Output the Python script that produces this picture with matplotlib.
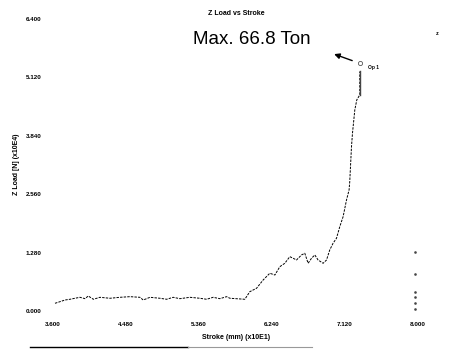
import numpy as np
import matplotlib.pyplot as plt
from matplotlib.lines import Line2D

# data (stroke x10 mm, load x10E4 N)
stroke = [3.624, 3.684, 3.745, 3.805, 3.865, 3.925, 3.986, 4.025, 4.086, 4.166,
          4.287, 4.407, 4.528, 4.648, 4.688, 4.769, 4.889, 4.970, 5.049, 5.130,
          5.251, 5.371, 5.452, 5.531, 5.612, 5.693, 5.733, 5.913, 5.973, 6.054,
          6.134, 6.214, 6.275, 6.335, 6.395, 6.455, 6.495, 6.536, 6.596, 6.636,
          6.676, 6.717, 6.757, 6.796, 6.857, 6.898, 6.937, 6.977, 7.018, 7.058,
          7.098, 7.139, 7.170, 7.178, 7.187, 7.199, 7.211, 7.227, 7.239, 7.263,
          7.299, 7.299]
load = [0.169, 0.204, 0.241, 0.257, 0.279, 0.300, 0.270, 0.329, 0.257, 0.300,
        0.279, 0.300, 0.314, 0.300, 0.241, 0.300, 0.279, 0.257, 0.300, 0.270,
        0.300, 0.279, 0.257, 0.300, 0.270, 0.314, 0.279, 0.257, 0.423, 0.498,
        0.680, 0.827, 0.789, 0.971, 1.046, 1.191, 1.156, 1.118, 1.228, 1.265,
        1.046, 1.156, 1.228, 1.118, 1.046, 1.118, 1.338, 1.485, 1.594, 1.849,
        2.068, 2.434, 2.654, 2.836, 3.164, 3.603, 3.897, 4.189, 4.408, 4.627,
        4.737, 5.250]
peak_x, peak_y = 7.299, 5.432
xticks = [3.6, 4.48, 5.36, 6.24, 7.12, 8.0]
yticks = [0.0, 1.28, 2.56, 3.84, 5.12, 6.4]
xtick_labels = ['3.600', '4.480', '5.360', '6.240', '7.120', '8.000']
ytick_labels = ['0.000', '1.280', '2.560', '3.840', '5.120', '6.400']

plt.rcParams['font.family'] = ['Liberation Sans', 'DejaVu Sans']

fig = plt.figure(figsize=(4.59, 3.49), dpi=100)
ax = fig.add_axes([0.1155, 0.1089, 0.795, 0.8367])
ax.set_xlim(3.6, 8.0)
ax.set_ylim(0, 6.4)

ax.plot(stroke, load, color='black', lw=0.7, ls=(0, (2.5, 1.2)))
ax.plot(stroke[-2:], load[-2:], color='#444444', lw=1.0)
ax.plot([peak_x], [peak_y], marker='o', ms=3, mfc='white', mec='#555555', mew=0.6)
ax.text(peak_x + 0.1, peak_y - 0.12, 'Op 1', fontsize=3.5, fontweight='bold')
ax.annotate('', xy=(6.958, 5.651), xytext=(7.239, 5.467),
            arrowprops=dict(arrowstyle='-|>', color='black', lw=1.0,
                            mutation_scale=8))
ax.text(6.0, 5.96, 'Max. 66.8 Ton', fontsize=13.5, ha='center', va='center')

# scan leftovers near the right edge
ax.plot([7.97] * 6, [0.05, 0.18, 0.3, 0.42, 0.8, 1.3], ls='none',
        marker='s', ms=0.8, color='#444444')

for s in ax.spines.values():
    s.set_visible(False)
ax.set_xticks(xticks)
ax.set_xticklabels(xtick_labels)
ax.set_yticks(yticks)
ax.set_yticklabels(ytick_labels)
ax.tick_params(length=0, labelsize=4.5, pad=8)
for lab in ax.get_xticklabels() + ax.get_yticklabels():
    lab.set_fontweight('bold')

fig.text(0.514, 0.962, 'Z Load vs Stroke', fontsize=5, fontweight='bold',
         ha='center', va='center')
fig.text(0.514, 0.034, 'Stroke (mm) (x10E1)', fontsize=5, fontweight='bold',
         ha='center', va='center')
fig.text(0.035, 0.53, 'Z Load [N] (x10E4)', fontsize=5, fontweight='bold',
         ha='center', va='center', rotation=90)
fig.text(0.952, 0.905, 'z', fontsize=4, fontweight='bold', ha='center', va='center')

# dark scan edge at the bottom
fig.add_artist(Line2D([0.065, 0.41], [0.006, 0.006], color='black', lw=1.0))
fig.add_artist(Line2D([0.41, 0.68], [0.006, 0.006], color='#999999', lw=0.8))

fig.savefig('out.png', dpi=100)
